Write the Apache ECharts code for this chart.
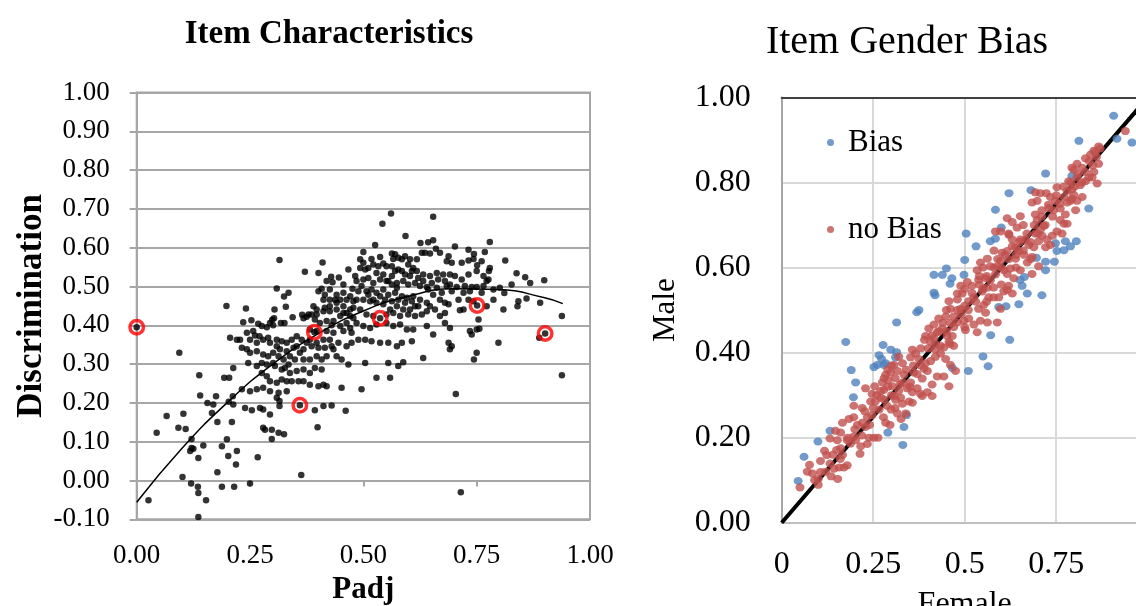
<!DOCTYPE html>
<html><head><meta charset="utf-8">
<script src="https://cdn.jsdelivr.net/npm/echarts@6/dist/echarts.min.js"></script>
<style>html,body{margin:0;padding:0;background:#fff}#c{width:1136px;height:606px}</style>
</head><body><div id="c"></div>
<script>
// ---------- Left chart: Item Characteristics ----------
const leftXTickLabels = ['0.00','0.25','0.50','0.75','1.00'];
const leftYTickLabels = ['-0.10','0.00','0.10','0.20','0.30','0.40','0.50','0.60','0.70','0.80','0.90','1.00'];
const itemPoints = [
[0.026,-0.051],[0.044,0.123],[0.066,0.166],[0.094,0.329],[0.092,0.136],[0.108,0.133],[0.103,0.172],[0.101,0.009],[0.120,-0.008],[0.135,-0.016],[0.136,-0.032],[0.153,-0.051],[0.136,-0.094],[0.121,0.084],[0.118,0.076],[0.125,0.082],[0.121,0.107],[0.136,0.058],[0.147,0.090],[0.138,0.271],[0.140,0.219],[0.156,0.200],[0.169,0.196],[0.175,0.217],[0.166,0.174],[0.178,0.151],[0.178,0.021],[0.188,-0.016],[0.188,0.088],[0.199,0.106],[0.202,0.063],[0.193,0.265],[0.204,0.265],[0.203,0.203],[0.210,0.151],[0.219,0.041],[0.221,0.076],[0.198,0.450],
[0.215,-0.016],[0.212,0.217],[0.213,0.290],[0.213,0.196],[0.206,0.368],[0.221,0.363],[0.228,0.363],[0.232,0.342],[0.235,0.408],[0.241,0.443],[0.243,0.338],[0.246,0.303],[0.250,0.329],[0.250,0.230],[0.250,-0.008],[0.253,0.413],[0.239,0.187],[0.232,0.235],[0.254,0.181],[0.261,0.374],[0.265,0.333],[0.265,0.295],[0.265,0.235],[0.267,0.060],[0.268,0.404],[0.271,0.372],[0.272,0.187],[0.276,0.398],[0.276,0.303],[0.276,0.277],[0.279,0.325],[0.279,0.239],[0.279,0.183],[0.279,0.136],[0.283,0.131],[0.287,0.395],[0.287,0.299],[0.287,0.269],[0.290,0.368],[0.290,0.320],[0.294,0.406],[0.294,0.256],[0.294,0.230],[0.294,0.170],[0.298,0.131],[0.298,0.107],[0.299,0.414],[0.301,0.400],[0.301,0.329],[0.303,0.418],[0.304,0.441],[0.305,0.295],[0.309,0.495],[0.309,0.363],[0.309,0.252],[0.309,0.213],[0.313,0.226],[0.313,0.123],[0.315,0.568],[0.315,0.205],[0.315,0.192],[0.316,0.338],
[0.318,0.406],[0.320,0.359],[0.320,0.260],[0.325,0.474],[0.325,0.119],[0.326,0.406],[0.327,0.290],[0.329,0.448],[0.331,0.355],[0.331,0.333],[0.331,0.256],[0.331,0.230],[0.335,0.484],[0.338,0.277],[0.342,0.363],[0.342,0.256],[0.344,0.421],[0.346,0.342],[0.353,0.372],[0.353,0.282],[0.357,0.256],[0.360,0.329],[0.363,0.014],[0.364,0.363],[0.365,0.427],[0.368,0.418],[0.368,0.286],[0.368,0.256],[0.371,0.538],[0.375,0.422],[0.375,0.355],[0.379,0.428],[0.382,0.389],[0.382,0.312],[0.382,0.277],[0.382,0.247],[0.386,0.428],[0.386,0.346],[0.390,0.449],[0.393,0.415],[0.393,0.290],[0.393,0.181],[0.397,0.441],[0.397,0.428],[0.397,0.385],[0.397,0.320],[0.399,0.137],[0.401,0.535],[0.401,0.488],[0.401,0.342],[0.401,0.243],[0.404,0.406],[0.408,0.494],[0.408,0.286],[0.410,0.562],[0.412,0.466],[0.412,0.247],[0.412,0.192],[0.415,0.479],[0.415,0.445],[0.415,0.342],[0.419,0.514],[0.419,0.411],[0.419,0.385],[0.419,0.243],[0.426,0.492],[0.426,0.466],[0.426,0.436],[0.429,0.525],[0.430,0.400],[0.430,0.346],[0.430,0.193],[0.432,0.511],[0.434,0.381],[0.438,0.466],[0.441,0.479],[0.441,0.441],[0.441,0.320],[0.445,0.355],[0.446,0.523],[0.449,0.466],[0.449,0.424],[0.452,0.312],[0.452,0.239],[0.456,0.505],[0.456,0.484],[0.456,0.449],[0.456,0.385],[0.461,0.180],[0.463,0.466],[0.463,0.432],[0.463,0.346],[0.467,0.544],[0.467,0.299],[0.471,0.475],[0.471,0.441],[0.471,0.393],[0.474,0.355],[0.476,0.494],[0.478,0.462],[0.478,0.445],[0.478,0.419],
[0.441,0.458],[0.426,0.449],[0.412,0.436],[0.456,0.432],[0.471,0.424],[0.434,0.411],[0.449,0.398],[0.463,0.406],[0.474,0.381],[0.382,0.363],[0.397,0.355],[0.412,0.363],[0.426,0.363],[0.368,0.338],[0.353,0.346],[0.338,0.320],[0.324,0.312],[0.313,0.320],[0.301,0.303],[0.320,0.286],[0.335,0.299],[0.349,0.312],[0.368,0.312],[0.408,0.312],[0.419,0.320],[0.434,0.338],[0.309,0.346],[0.294,0.355],[0.279,0.363],[0.265,0.355],[0.250,0.363],[0.243,0.381],[0.257,0.385],
[0.561,0.688],[0.542,0.662],[0.654,0.680],[0.593,0.630],[0.526,0.607],[0.779,0.615],[0.626,0.612],[0.643,0.614],[0.654,0.619],[0.702,0.603],[0.732,0.595],[0.744,0.584],[0.768,0.589],[0.813,0.567],[0.751,0.555],[0.779,0.548],[0.777,0.540],[0.838,0.534],[0.857,0.524],[0.868,0.509],[0.899,0.516],[0.827,0.505],
[0.500,0.589],[0.518,0.571],[0.537,0.576],[0.563,0.585],[0.566,0.571],[0.585,0.570],[0.603,0.570],[0.618,0.570],[0.629,0.587],[0.636,0.587],[0.647,0.585],[0.660,0.597],[0.669,0.587],[0.684,0.565],[0.688,0.578],[0.695,0.561],[0.717,0.561],[0.732,0.567],[0.743,0.571],[0.761,0.565],
[0.493,0.548],[0.504,0.544],[0.522,0.557],[0.533,0.552],[0.544,0.559],[0.551,0.552],[0.563,0.552],[0.570,0.540],[0.577,0.544],[0.585,0.540],[0.592,0.531],[0.603,0.527],[0.618,0.540],[0.632,0.531],[0.647,0.527],[0.662,0.535],[0.676,0.531],[0.691,0.531],[0.702,0.527],[0.717,0.518],[0.732,0.531],[0.750,0.540],[0.765,0.527],[0.776,0.518],
[0.485,0.514],[0.500,0.518],[0.511,0.522],[0.522,0.509],[0.537,0.518],[0.551,0.514],[0.563,0.527],[0.574,0.509],[0.588,0.514],[0.599,0.505],[0.614,0.509],[0.625,0.501],[0.640,0.499],[0.651,0.509],[0.665,0.518],[0.680,0.514],[0.691,0.505],[0.706,0.499],[0.724,0.501],[0.739,0.499],[0.750,0.499],[0.765,0.501],[0.772,0.514],
[0.489,0.488],[0.507,0.488],[0.518,0.492],[0.529,0.484],[0.544,0.492],[0.555,0.479],[0.570,0.484],[0.585,0.475],[0.596,0.471],[0.610,0.475],[0.625,0.466],[0.640,0.458],[0.647,0.449],[0.621,0.449],[0.603,0.441],[0.588,0.441],[0.574,0.449],[0.559,0.441],[0.544,0.454],[0.529,0.458],[0.515,0.462],[0.500,0.466],[0.485,0.466],
[0.570,0.583],[0.577,0.574],[0.592,0.578],[0.599,0.557],[0.610,0.548],[0.607,0.540],[0.621,0.522],[0.632,0.514],[0.643,0.492],[0.654,0.479],[0.574,0.497],[0.563,0.505],[0.555,0.514],[0.544,0.531],[0.529,0.535],[0.511,0.548],[0.500,0.561],[0.493,0.570],[0.482,0.527],[0.496,0.501],[0.511,0.479],[0.522,0.466],[0.537,0.475],[0.548,0.466],[0.563,0.462],[0.577,0.466],[0.592,0.458],[0.607,0.462],[0.614,0.449],[0.662,0.497],[0.673,0.484],[0.684,0.501],[0.695,0.488],[0.669,0.466],[0.680,0.458],[0.658,0.441],[0.669,0.424],[0.680,0.432],[0.721,0.484],[0.735,0.488],[0.761,0.484],[0.787,0.492],[0.801,0.497],[0.787,0.466],
[0.493,0.441],[0.507,0.428],[0.522,0.424],[0.537,0.418],[0.551,0.428],[0.566,0.432],[0.581,0.424],[0.599,0.428],[0.614,0.424],[0.629,0.428],[0.640,0.436],[0.688,0.454],[0.710,0.466],[0.713,0.439],[0.721,0.441],[0.732,0.466],[0.743,0.462],[0.754,0.415],[0.756,0.391],[0.751,0.451],[0.772,0.449],[0.809,0.441],[0.840,0.449],[0.842,0.462],[0.860,0.469],[0.890,0.458],[0.811,0.483],[0.901,0.379],[0.888,0.368],[0.938,0.424],[0.938,0.271],
[0.485,0.406],[0.500,0.398],[0.515,0.393],[0.529,0.402],[0.551,0.406],[0.566,0.398],[0.581,0.402],[0.596,0.389],[0.610,0.389],[0.640,0.398],[0.654,0.376],[0.680,0.406],[0.691,0.393],[0.735,0.385],[0.739,0.376],[0.750,0.389],[0.798,0.355],
[0.489,0.363],[0.504,0.363],[0.518,0.359],[0.537,0.355],[0.555,0.355],[0.574,0.346],[0.585,0.355],[0.607,0.359],[0.632,0.316],[0.588,0.305],[0.577,0.295],[0.555,0.303],[0.529,0.265],[0.559,0.265],[0.504,0.303],[0.496,0.235],[0.688,0.355],[0.695,0.346],[0.691,0.338],[0.750,0.329],[0.744,0.312],[0.704,0.223],[0.715,-0.030],
[0.000,0.395],[0.392,0.382],[0.360,0.194]
];
const trendLine = [[0.00,-0.056],[0.10,0.083],[0.20,0.201],[0.30,0.300],[0.40,0.378],[0.50,0.437],[0.60,0.475],[0.70,0.494],[0.80,0.492],[0.90,0.471],[0.94,0.456]];
const circledItems = [[0.000,0.395],[0.392,0.382],[0.360,0.194],[0.537,0.418],[0.751,0.451],[0.901,0.379]];

// ---------- Right chart: Item Gender Bias ----------
// the label for 1 lies past the cropped right edge of the original, so it is left blank
const rightXTickLabels = ['0','0.25','0.5','0.75',''];
const rightYTickLabels = ['0.00','0.20','0.40','0.60','0.80','1.00'];
const seriesNames = ['Bias','no Bias'];
const biasPoints = [
[0.907,0.957],[0.916,0.903],[0.957,0.894],[0.812,0.898],[0.721,0.821],[0.793,0.816],[0.681,0.782],[0.621,0.775],[0.839,0.739],[0.584,0.736],[0.600,0.694],[0.504,0.680],[0.531,0.650],[0.570,0.662],[0.584,0.668],[0.748,0.657],[0.775,0.662],[0.805,0.662],[0.752,0.639],[0.771,0.641],[0.789,0.650],[0.500,0.618],[0.721,0.614],[0.745,0.614],[0.696,0.623],[0.721,0.594],[0.450,0.598],[0.439,0.583],[0.416,0.583],[0.465,0.575],[0.460,0.562],[0.498,0.583],[0.651,0.571],[0.663,0.578],[0.657,0.557],[0.671,0.539],[0.711,0.535],[0.416,0.541],[0.419,0.535],[0.593,0.507],[0.613,0.509],[0.648,0.514],[0.369,0.495],[0.375,0.500],[0.314,0.471],[0.571,0.441],[0.623,0.430],[0.175,0.425],[0.277,0.418],[0.298,0.407],[0.314,0.401],[0.311,0.389],[0.266,0.394],[0.273,0.385],[0.279,0.371],[0.261,0.371],[0.252,0.366],[0.284,0.375],[0.550,0.391],[0.564,0.368],[0.466,0.364],[0.510,0.357],[0.190,0.359],[0.202,0.330],[0.196,0.295],[0.341,0.253],[0.334,0.225],[0.290,0.212],[0.331,0.183],[0.132,0.216],[0.099,0.191],[0.061,0.155],[0.045,0.098]
];
const noBiasPoints = [
[0.05,0.083],[0.1,0.089],[0.1,0.103],[0.076,0.136],[0.084,0.116],[0.106,0.145],[0.106,0.119],[0.132,0.139],[0.135,0.109],[0.153,0.103],[0.132,0.198],[0.147,0.216],[0.152,0.194],[0.161,0.175],[0.15,0.171],[0.166,0.159],[0.179,0.135],[0.17,0.13],[0.157,0.13],[0.143,0.127],[0.166,0.235],[0.184,0.244],[0.197,0.275],[0.214,0.162],[0.216,0.18],[0.202,0.194],[0.219,0.205],[0.229,0.225],[0.239,0.2],[0.252,0.2],[0.263,0.2],[0.227,0.262],[0.229,0.316],[0.234,0.248],[0.247,0.253],[0.243,0.285],[0.256,0.285],[0.247,0.303],[0.254,0.321],[0.266,0.266],[0.271,0.294],[0.279,0.312],[0.275,0.33],[0.284,0.348],[0.291,0.335],[0.298,0.353],[0.302,0.321],[0.307,0.298],[0.288,0.275],[0.278,0.248],[0.284,0.235],[0.296,0.23],[0.316,0.257],[0.325,0.294],[0.323,0.325],[0.334,0.348],[0.316,0.357],[0.307,0.371],[0.33,0.375],[0.343,0.316],[0.352,0.33],[0.348,0.285],[0.357,0.282],[0.339,0.257],[0.326,0.244],[0.299,0.266],[0.311,0.289],[0.357,0.307],[0.37,0.316],[0.379,0.303],[0.384,0.339],[0.361,0.353],[0.352,0.389],[0.357,0.407],[0.366,0.398],[0.375,0.385],[0.389,0.362],[0.398,0.357],[0.393,0.375],[0.407,0.38],[0.42,0.407],[0.434,0.398],[0.448,0.385],[0.461,0.371],[0.443,0.344],[0.425,0.344],[0.411,0.325],[0.384,0.298],[0.398,0.307],[0.434,0.416],[0.407,0.425],[0.393,0.439],[0.402,0.457],[0.416,0.466],[0.429,0.48],[0.439,0.457],[0.425,0.448],[0.416,0.434],[0.452,0.439],[0.443,0.412],[0.457,0.425],[0.466,0.439],[0.47,0.416],[0.448,0.485],[0.461,0.503],[0.457,0.521],[0.47,0.485],[0.48,0.471],[0.489,0.503],[0.48,0.525],[0.493,0.539],[0.498,0.475],[0.502,0.453],[0.511,0.48],[0.511,0.521],[0.525,0.53],[0.52,0.557],[0.507,0.566],[0.489,0.557],[0.48,0.539],[0.525,0.466],[0.534,0.448],[0.543,0.475],[0.538,0.503],[0.552,0.512],[0.548,0.544],[0.538,0.571],[0.534,0.594],[0.557,0.575],[0.562,0.553],[0.566,0.53],[0.557,0.494],[0.562,0.471],[0.579,0.53],[0.579,0.553],[0.584,0.584],[0.57,0.603],[0.562,0.621],[0.543,0.612],[0.589,0.603],[0.598,0.616],[0.602,0.635],[0.616,0.639],[0.607,0.594],[0.616,0.585],[0.625,0.598],[0.639,0.621],[0.648,0.639],[0.639,0.648],[0.652,0.666],[0.63,0.666],[0.621,0.677],[0.643,0.694],[0.666,0.666],[0.675,0.653],[0.662,0.63],[0.671,0.612],[0.684,0.625],[0.689,0.648],[0.702,0.662],[0.693,0.68],[0.707,0.689],[0.698,0.712],[0.693,0.725],[0.716,0.698],[0.711,0.675],[0.725,0.666],[0.721,0.648],[0.702,0.603],[0.684,0.585],[0.652,0.594],[0.634,0.575],[0.62,0.557],[0.607,0.544],[0.593,0.53],[0.598,0.503],[0.616,0.548],[0.63,0.539],[0.589,0.471],[0.584,0.685],[0.598,0.685],[0.616,0.716],[0.63,0.707],[0.652,0.721],[0.684,0.753],[0.693,0.777],[0.707,0.775],[0.723,0.775],[0.698,0.757],[0.711,0.735],[0.729,0.748],[0.734,0.766],[0.748,0.757],[0.752,0.789],[0.743,0.735],[0.761,0.739],[0.771,0.766],[0.78,0.753],[0.775,0.725],[0.761,0.712],[0.771,0.703],[0.752,0.685],[0.739,0.675],[0.734,0.653],[0.766,0.68],[0.78,0.703],[0.789,0.757],[0.798,0.771],[0.793,0.784],[0.784,0.803],[0.798,0.83],[0.807,0.844],[0.793,0.835],[0.821,0.835],[0.83,0.857],[0.844,0.866],[0.853,0.875],[0.866,0.885],[0.857,0.871],[0.866,0.844],[0.853,0.825],[0.839,0.812],[0.848,0.812],[0.862,0.798],[0.83,0.803],[0.816,0.794],[0.807,0.812],[0.821,0.766],[0.807,0.757],[0.793,0.762],[0.803,0.735],[0.939,0.921],[0.83,0.825],[0.475,0.357],[0.457,0.321],[0.411,0.298],[0.117,0.169],[0.123,0.159],[0.188,0.186],[0.197,0.203],[0.207,0.23],[0.22,0.235],[0.234,0.185],[0.197,0.248],[0.179,0.194],[0.161,0.212],
[0.27,0.31],[0.28,0.29],[0.29,0.32],[0.30,0.30],[0.31,0.34],[0.32,0.31],[0.33,0.33],[0.30,0.37],[0.29,0.36],[0.32,0.39],[0.34,0.36],[0.31,0.27],[0.33,0.28],[0.28,0.34],[0.26,0.30],[0.25,0.27],[0.35,0.32],[0.36,0.37],[0.37,0.35],[0.38,0.41],[0.39,0.43],[0.40,0.41],[0.41,0.44],[0.42,0.42],[0.43,0.45],[0.44,0.47],[0.45,0.45],[0.46,0.47],[0.47,0.46],[0.48,0.50],[0.49,0.49],[0.50,0.51],[0.51,0.50],[0.52,0.54],[0.53,0.52],[0.54,0.56],[0.55,0.55],[0.56,0.58],[0.57,0.57],[0.58,0.60],[0.59,0.62],[0.60,0.60],[0.61,0.63],[0.62,0.62],[0.63,0.65],[0.64,0.63],[0.65,0.66],[0.66,0.64],[0.67,0.68],[0.68,0.66],[0.69,0.70],[0.70,0.68],[0.71,0.72],[0.72,0.70],[0.73,0.74],[0.74,0.72],[0.75,0.77],[0.76,0.75],[0.77,0.79],[0.78,0.78],[0.79,0.80],[0.80,0.79],[0.81,0.82],[0.82,0.80],[0.84,0.85],[0.85,0.84],[0.86,0.86],[0.87,0.88],[0.55,0.60],[0.50,0.55],[0.45,0.50],[0.56,0.52],[0.60,0.56],[0.64,0.60],[0.68,0.62],[0.66,0.70],[0.62,0.68],[0.58,0.64],[0.54,0.58],[0.50,0.46],[0.46,0.42],[0.42,0.39],[0.38,0.37],[0.20,0.22],[0.18,0.20],[0.14,0.16],[0.12,0.12],[0.09,0.10],[0.07,0.12],[0.16,0.15],[0.22,0.27],[0.24,0.23]
];
const diagonalLine = [[0,0],[1,1]];

const FONT = 'Liberation Serif';
const chart = echarts.init(document.getElementById('c'), null, {renderer: 'canvas'});
const gridLeftLine = '#a6a6a6';
const lightGrid = '#d9d9d9';

chart.setOption({
  animation: false,
  backgroundColor: '#ffffff',
  title: [
    {text: 'Item Characteristics', left: 329, top: 18, padding: 0, textAlign: 'center',
     textStyle: {fontFamily: FONT, fontSize: 33, fontWeight: 'bold', color: '#000'}},
    {text: 'Item Gender Bias', left: 907, top: 22, padding: 0, textAlign: 'center',
     textStyle: {fontFamily: FONT, fontSize: 40, fontWeight: 'normal', color: '#000'}}
  ],
  legend: {
    data: seriesNames, orient: 'vertical', left: 827, top: 127, padding: 0,
    itemWidth: 25, itemHeight: 7, itemGap: 56, icon: 'circle',
    textStyle: {fontFamily: FONT, fontSize: 31, color: '#000'}
  },
  grid: [
    {left: 136.7, top: 92.5, right: 546, bottom: 86.7, show: true, borderColor: gridLeftLine, borderWidth: 2,
     backgroundColor: 'transparent', outerBoundsMode: 'none'},
    {left: 781.7, top: 97.5, right: -11.7, bottom: 83.3, show: false, outerBoundsMode: 'none'}
  ],
  xAxis: [
    {gridIndex: 0, type: 'value', min: 0, max: 1, interval: 0.25, position: 'bottom',
     axisLine: {show: false, onZero: false}, axisTick: {show: false}, splitLine: {show: false},
     axisLabel: {margin: 23, fontFamily: FONT, fontSize: 27, color: '#000',
       formatter: v => leftXTickLabels[Math.round(v / 0.25)]},
     name: 'Padj', nameLocation: 'middle', nameGap: 55,
     nameTextStyle: {fontFamily: FONT, fontSize: 31, fontWeight: 'bold', color: '#000'}},
    {gridIndex: 0, type: 'value', min: 0, max: 1, interval: 0.25, position: 'top',
     axisLine: {show: true, onZero: true, lineStyle: {color: gridLeftLine, width: 2}},
     axisTick: {show: true, inside: true, length: 6, lineStyle: {color: gridLeftLine, width: 2}},
     axisLabel: {show: false}, splitLine: {show: false}},
    {gridIndex: 1, type: 'value', min: 0, max: 1, interval: 0.25, position: 'bottom',
     axisLine: {show: true, onZero: false, lineStyle: {color: '#bfbfbf', width: 2}},
     axisTick: {show: false},
     splitLine: {show: true, lineStyle: {color: lightGrid, width: 2}},
     axisLabel: {margin: 26, fontFamily: FONT, fontSize: 32, color: '#000',
       formatter: v => rightXTickLabels[Math.round(v / 0.25)]},
     name: 'Female', nameLocation: 'middle', nameGap: 66,
     nameTextStyle: {fontFamily: FONT, fontSize: 32, color: '#000'}},
    {gridIndex: 1, type: 'value', min: 0, max: 1, interval: 0.25, position: 'top',
     axisLine: {show: true, onZero: false, lineStyle: {color: '#404040', width: 2}},
     axisTick: {show: false}, axisLabel: {show: false}, splitLine: {show: false}}
  ],
  yAxis: [
    {gridIndex: 0, type: 'value', min: -0.1, max: 1, interval: 0.1,
     axisLine: {show: true, onZero: false, lineStyle: {color: gridLeftLine, width: 2}},
     axisTick: {show: true, inside: false, length: 7, lineStyle: {color: gridLeftLine, width: 2}},
     splitLine: {show: true, lineStyle: {color: gridLeftLine, width: 2}},
     axisLabel: {margin: 27, fontFamily: FONT, fontSize: 27, color: '#000',
       formatter: v => leftYTickLabels[Math.round((v + 0.1) / 0.1)]},
     name: 'Discrimination', nameLocation: 'middle', nameGap: 86,
     nameTextStyle: {fontFamily: FONT, fontSize: 35, fontWeight: 'bold', color: '#000'}},
    {gridIndex: 1, type: 'value', min: 0, max: 1, interval: 0.2,
     axisLine: {show: true, onZero: false, lineStyle: {color: '#a6a6a6', width: 2}},
     axisTick: {show: false},
     splitLine: {show: true, lineStyle: {color: lightGrid, width: 2}},
     axisLabel: {margin: 31, fontFamily: FONT, fontSize: 32, color: '#000',
       formatter: v => rightYTickLabels[Math.round(v / 0.2)]},
     name: 'Male', nameLocation: 'middle', nameGap: 100,
     nameTextStyle: {fontFamily: FONT, fontSize: 31, color: '#000'}}
  ],
  series: [
    {type: 'scatter', xAxisIndex: 0, yAxisIndex: 0, data: itemPoints, symbolSize: 6.5,
     itemStyle: {color: '#000'}, silent: true, z: 2},
    {type: 'line', xAxisIndex: 0, yAxisIndex: 0, data: trendLine, smooth: true, showSymbol: false,
     lineStyle: {color: '#000', width: 1.5}, silent: true, z: 3},
    {type: 'scatter', xAxisIndex: 0, yAxisIndex: 0, data: circledItems, symbolSize: 13.5,
     itemStyle: {color: 'rgba(0,0,0,0)', borderColor: '#ff0000', borderWidth: 3.5}, silent: true, z: 4},
    {type: 'line', xAxisIndex: 2, yAxisIndex: 1, data: diagonalLine, showSymbol: false,
     lineStyle: {color: '#000', width: 4}, silent: true, z: 2},
    {type: 'scatter', name: seriesNames[0], xAxisIndex: 2, yAxisIndex: 1, data: biasPoints, symbolSize: [9, 8],
     itemStyle: {color: '#4f81bd'}, silent: true, z: 3},
    {type: 'scatter', name: seriesNames[1], xAxisIndex: 2, yAxisIndex: 1, data: noBiasPoints, symbolSize: [9, 8],
     itemStyle: {color: '#c0504d'}, silent: true, z: 4}
  ]
});
</script></body></html>
